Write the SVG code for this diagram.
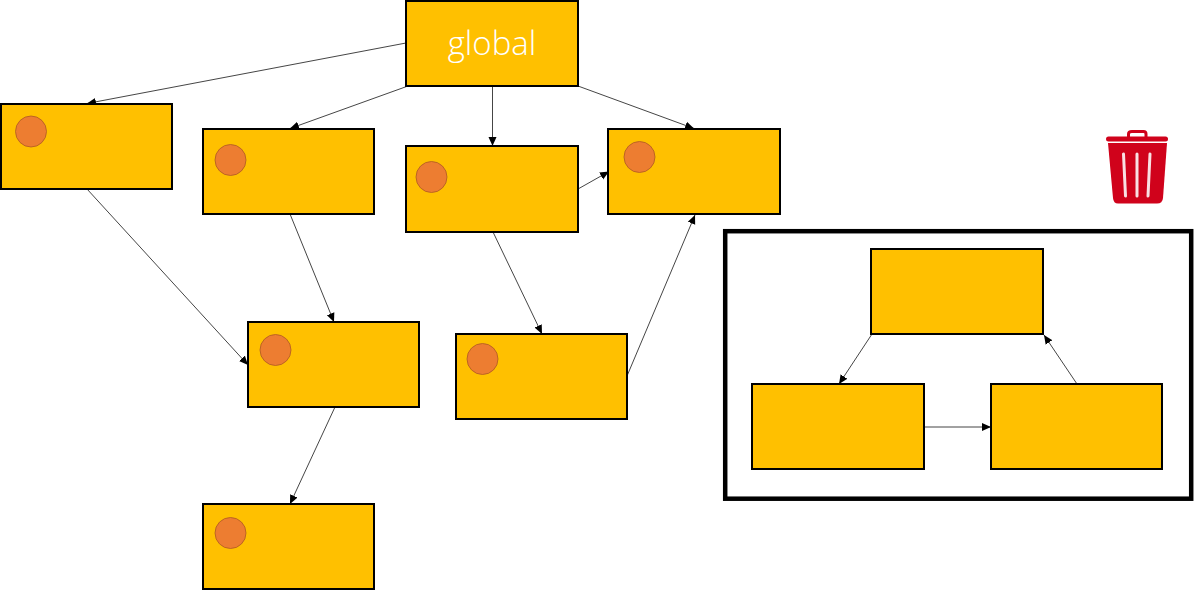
<svg xmlns="http://www.w3.org/2000/svg" width="1194" height="590" viewBox="0 0 1194 590">
<style>
.n{fill:#ffc000;stroke:#000;stroke-width:2}
.c{fill:#ed7d31;stroke:#ae5a21;stroke-width:.8}
.e{fill:none;stroke:#303030;stroke-width:.9;marker-end:url(#a)}
.t{fill:#fff;font-family:"Open Sans","Liberation Sans",sans-serif;font-weight:300;font-size:33px;text-anchor:middle}
</style>
<defs>
<marker id="a" markerUnits="userSpaceOnUse" markerWidth="10" markerHeight="9" refX="9" refY="4.500" orient="auto"><path d="M0 0.500L9 4.500L0 8.500Z" fill="#000"/></marker>
</defs>
<rect width="1194" height="590" fill="#fff"/>
<g id="connectors">
<path class="e" d="M406 43L87 103.500"/>
<path class="e" d="M408 86L290 128.500"/>
<path class="e" d="M492.500 86V146"/>
<path class="e" d="M578 86L694 128.500"/>
<path class="e" d="M578 189L609 171.500"/>
<path class="e" d="M87 189L248 365"/>
<path class="e" d="M290 214L334 322"/>
<path class="e" d="M493 232L542 334"/>
<path class="e" d="M627 376L695 215"/>
<path class="e" d="M335 407L290 504"/>
<path class="e" d="M872 334L839 384"/>
<path class="e" d="M924 427H991"/>
<path class="e" d="M1077 384L1044 335"/>
</g>
<g id="global"><rect class="n" x="406" y="1" width="172" height="85"/><text class="t" x="492" y="55">global</text></g>
<g id="node1"><rect class="n" x="1" y="104" width="171" height="85"/><circle class="c" cx="31" cy="131.500" r="15.500"/></g>
<g id="node2"><rect class="n" x="203" y="129" width="171" height="85"/><circle class="c" cx="230.500" cy="160" r="15.500"/></g>
<g id="node3"><rect class="n" x="406" y="146" width="172" height="86"/><circle class="c" cx="431.500" cy="177" r="15.500"/></g>
<g id="node4"><rect class="n" x="608" y="129" width="172" height="85"/><circle class="c" cx="639.500" cy="157" r="15.500"/></g>
<g id="node5"><rect class="n" x="248" y="322" width="171" height="85"/><circle class="c" cx="275.500" cy="350" r="15.500"/></g>
<g id="node6"><rect class="n" x="456" y="334" width="171" height="85"/><circle class="c" cx="482.500" cy="359" r="15.500"/></g>
<g id="node7"><rect class="n" x="203" y="504" width="171" height="85"/><circle class="c" cx="230.500" cy="533" r="15.500"/></g>
<g id="frame"><rect x="725.200" y="231.200" width="466" height="267.500" fill="none" stroke="#000" stroke-width="4.500"/></g>
<g id="cycle1"><rect class="n" x="871" y="249" width="172" height="85"/></g>
<g id="cycle2"><rect class="n" x="752" y="384" width="172" height="85"/></g>
<g id="cycle3"><rect class="n" x="991" y="384" width="171" height="85"/></g>
<g id="trash">
<path d="M1128.500 137V134Q1128.500 131.500 1132 131.500H1143.500Q1146 131.500 1146 134V137" fill="none" stroke="#d0021b" stroke-width="3"/>
<rect x="1106" y="136.500" width="62" height="5" rx="2.500" fill="#d0021b"/>
<path d="M1108 143H1167L1163 198Q1162.500 203.500 1157 203.500H1118Q1113.500 203.500 1113 198Z" fill="#d0021b"/>
<path d="M1123.500 154L1125.500 196M1137 154V196M1150 154L1148 196" stroke="#fff" stroke-width="3" stroke-linecap="round" opacity=".88"/>
</g>
</svg>
